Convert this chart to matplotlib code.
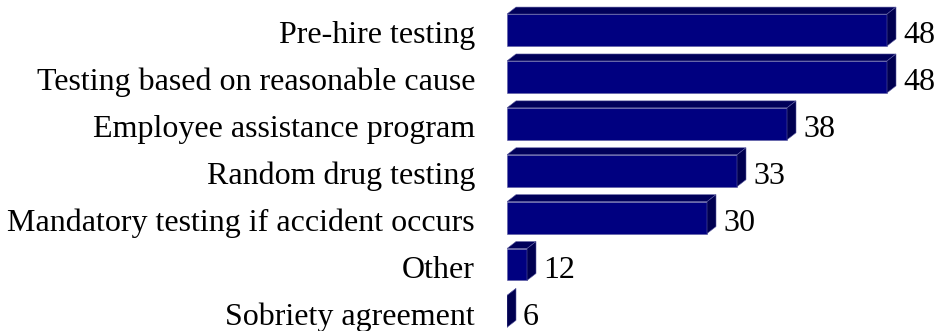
import matplotlib.pyplot as plt
from matplotlib.patches import Polygon

categories = ['Pre-hire testing', 'Testing based on reasonable cause',
              'Employee assistance program', 'Random drug testing',
              'Mandatory testing if accident occurs', 'Other',
              'Sobriety agreement']
values = [48, 48, 38, 33, 30, 12, 6]

plt.rcParams['font.family'] = ['Liberation Serif', 'DejaVu Serif']

front = '#000080'
top = '#00005a'
side = '#000050'
edge = '#5a5aa0'

xmin = 10
height = 0.68   # front face height, in row units
dx, dy = 0.9, 0.149   # depth of the 3d bars

fig = plt.figure(figsize=(9.38, 3.31), dpi=100)
ax = fig.add_axes([507 / 938, 0, 1 - 507 / 938, 1])
ax.set_xlim(xmin, xmin + 43.1)
ax.set_ylim(6.418, -0.64)
ax.axis('off')

for i, (cat, v) in enumerate(zip(categories, values)):
    x0 = xmin
    x1 = max(v, xmin)
    yt = i - height / 2
    yb = i + height / 2
    # front face
    ax.add_patch(Polygon([(x0, yt), (x1, yt), (x1, yb), (x0, yb)],
                         closed=True, facecolor=front, edgecolor=edge, lw=0.4))
    # top face
    ax.add_patch(Polygon([(x0, yt), (x1, yt), (x1 + dx, yt - dy), (x0 + dx, yt - dy)],
                         closed=True, facecolor=top, edgecolor=edge, lw=0.4))
    # right side face
    ax.add_patch(Polygon([(x1, yt), (x1 + dx, yt - dy), (x1 + dx, yb - dy), (x1, yb)],
                         closed=True, facecolor=side, edgecolor=edge, lw=0.4))
    ax.text(x1 + dx + 0.7, i + 0.28, str(v), ha='left', va='baseline',
            fontsize=23, color='black', clip_on=False)
    ax.text(xmin - 3.2, i + 0.28, cat, ha='right', va='baseline',
            fontsize=23, color='black', clip_on=False)

fig.savefig('out.png', dpi=100)
